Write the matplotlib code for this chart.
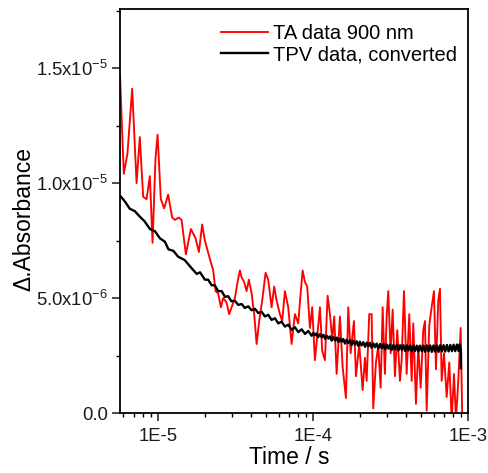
import matplotlib
matplotlib.use("Agg")
import matplotlib.pyplot as plt
import numpy as np

plt.rcParams["font.family"] = ["Liberation Sans", "DejaVu Sans"]
plt.rcParams["mathtext.fontset"] = "custom"
plt.rcParams["mathtext.rm"] = "Liberation Sans"
plt.rcParams["mathtext.default"] = "regular"

# TA data 900 nm (time in microseconds, dA in 1e-6)
ta_time_us = [5.7, 6.03, 6.37, 6.83, 7.29, 7.65, 8.04, 8.46, 8.88, 9.24,
              9.66, 9.96, 10.45, 10.98, 11.65, 12.37, 12.87, 13.66, 14.22, 15.16,
              16.33, 17.51, 18.39, 19.31, 20.1,
              21.66, 22.75, 23.57, 24.49, 25.5, 26.38, 27.75, 28.84, 29.89, 31.39,
              32.67, 33.81, 34.67, 36.04, 37.35, 38.65, 40.23, 41.82, 43.34, 45.04,
              47.1, 49.53, 51.48, 54.14, 56.27, 58.31, 61.25, 63.38, 65.98,
              69.28, 72.88, 76.55, 80.4, 83.32, 85.83, 88.82, 91.89, 95.63, 98.97,
              103.0, 107.2, 111.0, 114.8, 119.5, 124.4, 128.8, 133.2, 137.2, 142.2,
              149.4, 155.5, 163.3, 169.0, 175.1, 183.9, 189.5, 199.0, 209.2, 216.6,
              222.1, 230.8, 239.2, 244.9, 255.0, 263.8, 273.4, 281.7, 291.4, 298.9,
              306.1, 317.1, 326.7, 338.1, 349.9, 364.2, 373.5, 386.5, 402.3, 418.2,
              433.5, 443.8, 461.9, 478.0, 495.5, 514.8, 528.0, 541.5, 562.7, 583.1,
              603.4, 621.6, 643.3, 659.8, 676.6, 700.2, 728.8, 757.6, 785.0, 812.3,
              836.8, 865.9, 897.4, 919.0]
ta_abs = [14.7, 10.4, 11.3, 14.1, 10.0, 12.0, 9.4, 9.3, 10.3, 7.4,
          11.1, 12.1, 9.3, 8.9, 9.5, 8.5, 8.4, 8.5, 8.4, 6.9,
          8.0, 7.6, 7.0, 8.2, 7.5,
          6.7, 6.2, 5.3, 5.2, 4.6, 5.0, 4.8, 4.3, 4.6, 5.0,
          5.7, 6.2, 5.9, 5.7, 5.3, 5.8, 5.2, 4.3, 3.0, 4.0,
          4.9, 6.1, 5.8, 4.6, 5.5, 4.9, 4.3, 4.0, 5.3,
          4.6, 3.0, 4.3, 3.9, 5.2, 6.2, 5.7, 5.5, 3.7, 4.6,
          2.3, 3.5, 4.6, 2.7, 2.3, 5.1, 4.3, 3.2, 4.2, 1.7,
          4.2, 2.0, 0.65, 4.6, 2.6, 4.0, 1.6, 3.0, 1.0, 2.4,
          1.4, 4.3, 4.3, 0.2, 2.2, 2.9, 1.1, 4.6, 1.7, 4.2,
          5.3, 2.6, 4.5, 1.6, 3.6, 1.4, 2.3, 5.3, 1.7, 4.3,
          1.4, 3.9, 0.4, 2.9, 1.1, 3.6, 4.0, 0.1, 3.8, 4.6,
          5.3, 1.9, 4.9, 5.4, 1.4, 2.6, 0.7, 2.2, -0.3, 1.7,
          -0.3, 1.4, 3.7, -0.3]

# TPV data, converted
tpv_time_us = [5.7, 6.1, 6.6, 7.1, 7.6, 8.2, 8.9, 9.6, 10.3, 11.1,
               11.7, 12.6, 13.5, 14.9, 16.5, 17.8, 18.7, 20.1, 21.1, 22.2,
               23.3, 24.5, 25.8, 27.1, 28.4, 29.8, 31.4, 33.0, 34.7, 36.4,
               38.3, 40.2, 42.3, 44.4, 46.7, 49.0, 51.5, 54.1, 56.9, 59.8,
               62.8, 66.0, 69.4, 72.9, 76.6, 80.5, 84.6, 88.9, 93.3,
               98.1, 100.5, 103, 105.5, 108, 111, 114, 117, 120, 123,
               126, 129, 132, 135.5, 139, 142.5, 146, 149.5, 153, 157,
               161, 165, 169, 173.5, 178, 182.5, 187, 191.5, 196, 201,
               206, 211.5, 217, 222.5, 228, 233.5, 239, 245, 251, 257.5,
               264, 271, 278, 285, 292, 299.5, 307, 314.5, 322, 330.5,
               339, 347.5, 356, 365, 374, 383.5, 393, 403, 413, 423.5,
               434, 445, 456, 467.5, 479, 491.5, 504, 516.5, 529, 542.5,
               556, 570.5, 585, 599.5, 614, 630, 646, 662.5, 679, 696,
               713, 731.5, 750, 769, 788, 808, 828, 849, 870, 885,
               900, 901]
tpv_abs = [9.45, 9.22, 8.88, 8.78, 8.56, 8.34, 8.0, 7.9, 7.6, 7.45,
           7.12, 7.05, 6.8, 6.65, 6.3, 6.05, 6.12, 5.8, 5.8, 5.56,
           5.55, 5.3, 5.3, 5.05, 5.08, 4.86, 4.88, 4.7, 4.74, 4.57,
           4.64, 4.47, 4.53, 4.35, 4.4, 4.2, 4.27, 4.05, 4.12, 3.9,
           3.97, 3.76, 3.84, 3.62, 3.73, 3.52, 3.64, 3.44, 3.57,
           3.36, 3.48, 3.38, 3.46, 3.3, 3.43, 3.3, 3.4, 3.22, 3.36,
           3.24, 3.33, 3.15, 3.3, 3.16, 3.28, 3.08, 3.24, 3.1, 3.22,
           3.02, 3.19, 3.04, 3.16, 2.96, 3.14, 2.98, 3.12, 2.92, 3.1,
           2.94, 3.08, 2.88, 3.06, 2.9, 3.05, 2.84, 3.03, 2.86, 3.02,
           2.8, 3.0, 2.82, 2.99, 2.77, 2.98, 2.8, 2.97, 2.74, 2.96,
           2.77, 2.96, 2.72, 2.95, 2.75, 2.95, 2.7, 2.94, 2.72, 2.94,
           2.68, 2.94, 2.7, 2.93, 2.67, 2.93, 2.69, 2.93, 2.66, 2.94,
           2.68, 2.94, 2.66, 2.94, 2.67, 2.94, 2.66, 2.95, 2.68, 2.95,
           2.67, 2.96, 2.68, 2.96, 2.69, 2.97, 2.69, 2.98, 2.7, 2.98,
           2.72, 1.95]

ytick_vals = [0, 5e-6, 1e-5, 1.5e-5]
ytick_labels = ["0.0", "5.0x10$^{-6}$", "1.0x10$^{-5}$", "1.5x10$^{-5}$"]
xtick_vals = [1e-5, 1e-4, 1e-3]
xtick_labels = ["1E-5", "1E-4", "1E-3"]

fig = plt.figure(figsize=(4.89, 4.73), dpi=100)
ax = fig.add_axes([0.2454, 0.1268, 0.957 - 0.2454, 0.981 - 0.1268])

ax.plot(np.array(ta_time_us) * 1e-6, np.array(ta_abs) * 1e-6, color="#ff0000", lw=1.35,
        label="TA data 900 nm")
ax.plot(np.array(tpv_time_us) * 1e-6, np.array(tpv_abs) * 1e-6, color="black", lw=1.7,
        label="TPV data, converted")

ax.set_xscale("log")
ax.set_xlim(5.7e-6, 1e-3)
ax.set_ylim(0, 1.757e-5)

ax.set_yticks(ytick_vals, ytick_labels)
ax.set_yticks([2.5e-6, 7.5e-6, 1.25e-5, 1.75e-5], minor=True)
ax.set_xticks(xtick_vals, xtick_labels)

for s in ax.spines.values():
    s.set_linewidth(1.3)
ax.tick_params(which="major", direction="out", length=5.5, width=1.1, labelsize=13.3,
               pad=3, colors="#1a1a1a")
ax.tick_params(axis="x", which="major", pad=5)
ax.tick_params(which="minor", direction="out", length=3, width=1.0)
ax.tick_params(top=False, right=False, which="both")

ax.set_xlabel("Time / s", fontsize=16.5)
ax.set_ylabel("\u0394.Absorbance", fontsize=16.5)
ax.xaxis.set_label_coords(0.486, -0.082)
ax.yaxis.set_label_coords(-0.244, 0.48)

ax.legend(loc="upper left", bbox_to_anchor=(0.29, 0.962), frameon=False, fontsize=14.5,
          handlelength=2.35, handletextpad=0.25, labelspacing=0.1, borderpad=0,
          borderaxespad=0)

fig.savefig("out.png", dpi=100)
